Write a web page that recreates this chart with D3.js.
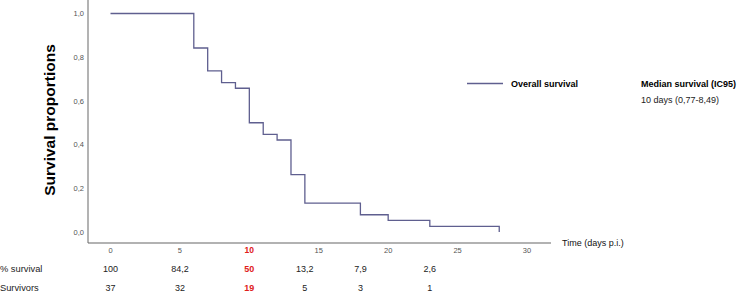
<!DOCTYPE html>
<html>
<head>
<meta charset="utf-8">
<script src="https://cdn.jsdelivr.net/npm/d3@7"></script>
<style>
  body { margin: 0; background: #fff; }
  svg { display: block; font-family: "Liberation Sans", Arial, sans-serif; }
</style>
</head>
<body>
<div id="chart"></div>
<script>
// Kaplan-Meier steps
var times = [0, 6, 7, 8, 9, 10, 11, 12, 13, 14, 18, 20, 23, 28];
var survival = [1, 0.842, 0.737, 0.684, 0.658, 0.5, 0.447, 0.421, 0.263, 0.132, 0.079, 0.053, 0.026, 0];

var xTicks = [0, 5, 10, 15, 20, 25, 30];
var yTicks = [0, 0.2, 0.4, 0.6, 0.8, 1.0];

// table under the axis
var tableDays = [0, 5, 10, 14, 18, 23];
var pctSurvival = ["100", "84,2", "50", "13,2", "7,9", "2,6"];
var survivors = ["37", "32", "19", "5", "3", "1"];
var highlightDay = 10;

var width = 738, height = 295;

var svg = d3.select("#chart").append("svg")
    .attr("width", width)
    .attr("height", height);

var x = d3.scaleLinear().domain([0, 30]).range([110.5, 527]);
var y = d3.scaleLinear().domain([0, 1]).range([232, 13.5]);

var fmt = function (d) { return d3.format(".1f")(d).replace(".", ","); };

// axis lines
svg.append("line")
    .attr("x1", 88).attr("x2", 88)
    .attr("y1", 0).attr("y2", 243)
    .attr("stroke", "#9a9a9a").attr("stroke-width", 1.5);

svg.append("line")
    .attr("x1", 88).attr("x2", 551)
    .attr("y1", 243).attr("y2", 243)
    .attr("stroke", "#666").attr("stroke-width", 1.2);

// y tick labels
svg.append("g").selectAll("text")
    .data(yTicks)
    .join("text")
    .attr("x", 84)
    .attr("y", d => y(d))
    .attr("dy", "0.35em")
    .attr("text-anchor", "end")
    .attr("font-size", 7.5)
    .attr("fill", "#555")
    .text(fmt);

// x tick labels
svg.append("g").selectAll("text")
    .data(xTicks)
    .join("text")
    .attr("x", d => x(d))
    .attr("y", 253)
    .attr("text-anchor", "middle")
    .attr("font-size", d => d === highlightDay ? 8.5 : 7.5)
    .attr("font-weight", d => d === highlightDay ? "bold" : "normal")
    .attr("fill", d => d === highlightDay ? "#e0201b" : "#555")
    .text(d => d);

// survival curve
var pts = times.map((t, i) => [t, survival[i]]);
svg.append("path")
    .datum(pts)
    .attr("fill", "none")
    .attr("stroke", "#5f5f8f")
    .attr("stroke-width", 1.3)
    .attr("d", d3.line()
        .curve(d3.curveStepAfter)
        .x(d => x(d[0]))
        .y(d => y(d[1]))
    );

// y title
svg.append("text")
    .attr("transform", "translate(55,120) rotate(-90)")
    .attr("text-anchor", "middle")
    .attr("font-size", 15.5)
    .attr("font-weight", "bold")
    .attr("fill", "#000")
    .text("Survival proportions");

// x title
svg.append("text")
    .attr("x", 562).attr("y", 246)
    .attr("font-size", 9)
    .attr("fill", "#111")
    .text("Time (days p.i.)");

// legend
svg.append("line")
    .attr("x1", 467).attr("x2", 503)
    .attr("y1", 83.5).attr("y2", 83.5)
    .attr("stroke", "#5f5f8f").attr("stroke-width", 1.3);

svg.append("text")
    .attr("x", 511).attr("y", 86.5)
    .attr("font-size", 9)
    .attr("font-weight", "bold")
    .text("Overall survival");

svg.append("text")
    .attr("x", 641).attr("y", 86.5)
    .attr("font-size", 9)
    .attr("font-weight", "bold")
    .text("Median survival (IC95)");

svg.append("text")
    .attr("x", 641).attr("y", 103)
    .attr("font-size", 9)
    .attr("fill", "#222")
    .text("10 days (0,77-8,49)");

// table rows
var rows = [
    { label: "% survival", values: pctSurvival, yy: 271.5 },
    { label: "Survivors", values: survivors, yy: 291 }
];

rows.forEach(function (r) {
    svg.append("text")
        .attr("x", 0).attr("y", r.yy)
        .attr("font-size", 9.3)
        .attr("fill", "#222")
        .text(r.label);

    svg.append("g").selectAll("text")
        .data(tableDays)
        .join("text")
        .attr("x", d => x(d))
        .attr("y", r.yy)
        .attr("text-anchor", "middle")
        .attr("font-size", 9)
        .attr("font-weight", d => d === highlightDay ? "bold" : "normal")
        .attr("fill", d => d === highlightDay ? "#e0201b" : "#222")
        .text((d, i) => r.values[i]);
});
</script>
</body>
</html>
